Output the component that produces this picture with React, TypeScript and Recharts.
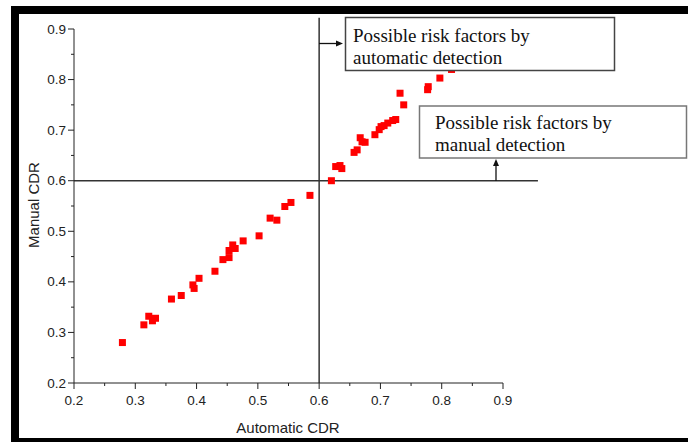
import React from 'react';
import { ScatterChart, Scatter, XAxis, YAxis, ReferenceLine } from 'recharts';

// ---- data ----
const automaticCDR = [
  0.279, 0.314, 0.322, 0.328, 0.333, 0.359, 0.375, 0.394, 0.396, 0.404,
  0.430, 0.443, 0.453, 0.453, 0.459, 0.463, 0.476, 0.502, 0.520, 0.531,
  0.544, 0.554, 0.585, 0.620, 0.627, 0.634, 0.637, 0.657, 0.662, 0.667,
  0.670, 0.675, 0.691, 0.698, 0.701, 0.706, 0.712, 0.720, 0.725, 0.732,
  0.738, 0.777, 0.778, 0.797, 0.816,
];
const manualCDR = [
  0.280, 0.315, 0.332, 0.323, 0.328, 0.366, 0.373, 0.394, 0.387, 0.407,
  0.421, 0.444, 0.448, 0.462, 0.473, 0.466, 0.481, 0.491, 0.526, 0.522,
  0.549, 0.557, 0.571, 0.600, 0.628, 0.630, 0.624, 0.656, 0.661, 0.685,
  0.677, 0.676, 0.691, 0.701, 0.707, 0.709, 0.714, 0.719, 0.721, 0.773,
  0.750, 0.780, 0.786, 0.803, 0.820,
];
const axisTicks = [
  0.2, 0.25, 0.3, 0.35, 0.4, 0.45, 0.5, 0.55, 0.6, 0.65, 0.7, 0.75, 0.8, 0.85, 0.9,
];
const thresholdCDR = 0.6;
const xTitle = 'Automatic CDR';
const yTitle = 'Manual CDR';
const autoNote = ['Possible risk factors by', 'automatic detection'];
const manualNote = ['Possible risk factors by', 'manual detection'];

const points = automaticCDR.map((x, i) => ({ x, y: manualCDR[i] }));

// ---- layout ----
const W = 688;
const H = 442;
const PLOT_LEFT = 74;
const PLOT_RIGHT = 503;
const PLOT_TOP = 29;
const PLOT_BOTTOM = 383;
const AXIS_COLOR = '#222';
const SANS = '"Liberation Sans", Arial, sans-serif';
const SERIF = '"Liberation Serif", "Times New Roman", serif';

const isMajor = (v: number) => Math.abs(v * 10 - Math.round(v * 10)) < 1e-6;

const YTick = (props: any) => {
  const { y, payload } = props;
  const v = payload.value as number;
  const major = isMajor(v);
  return (
    <g>
      <line x1={PLOT_LEFT - (major ? 6 : 3)} x2={PLOT_LEFT} y1={y} y2={y} stroke={AXIS_COLOR} strokeWidth={1} />
      {major && (
        <text x={PLOT_LEFT - 8} y={y} dy={4.5} textAnchor="end" fontSize={13.5} fontFamily={SANS} fill={AXIS_COLOR}>
          {v.toFixed(1)}
        </text>
      )}
    </g>
  );
};

const XTick = (props: any) => {
  const { x, payload } = props;
  const v = payload.value as number;
  const major = isMajor(v);
  return (
    <g>
      <line x1={x} x2={x} y1={PLOT_BOTTOM} y2={PLOT_BOTTOM + (major ? 6 : 3)} stroke={AXIS_COLOR} strokeWidth={1} />
      {major && (
        <text x={x} y={PLOT_BOTTOM + 22} textAnchor="middle" fontSize={13.5} fontFamily={SANS} fill={AXIS_COLOR}>
          {v.toFixed(1)}
        </text>
      )}
    </g>
  );
};

const SquareDot = (props: any) => {
  const { cx, cy } = props;
  return <rect x={cx - 3.5} y={cy - 3.5} width={7} height={7} fill="#ff0000" />;
};

export default function App() {
  return (
    <div style={{ position: 'absolute', left: 0, top: 0, width: W, height: H, background: '#fff', overflow: 'hidden' }}>
      <ScatterChart
        width={W}
        height={H}
        margin={{ top: PLOT_TOP, right: W - PLOT_RIGHT, bottom: H - PLOT_BOTTOM - 30, left: 0 }}
      >
        <XAxis
          type="number"
          dataKey="x"
          domain={[0.2, 0.9]}
          ticks={axisTicks}
          interval={0}
          height={30}
          tickLine={false}
          tick={<XTick />}
          axisLine={{ stroke: AXIS_COLOR, strokeWidth: 1 }}
          allowDataOverflow
        />
        <YAxis
          type="number"
          dataKey="y"
          domain={[0.2, 0.9]}
          ticks={axisTicks}
          interval={0}
          width={PLOT_LEFT}
          tickLine={false}
          tick={<YTick />}
          axisLine={{ stroke: AXIS_COLOR, strokeWidth: 1 }}
          allowDataOverflow
        />
        <ReferenceLine
          segment={[{ x: thresholdCDR, y: 0.2 }, { x: thresholdCDR, y: 0.922 }]}
          stroke="#333"
          strokeWidth={1.5}
          ifOverflow="visible"
        />
        <ReferenceLine
          segment={[{ x: 0.2, y: thresholdCDR }, { x: 0.957, y: thresholdCDR }]}
          stroke="#333"
          strokeWidth={1.5}
          ifOverflow="visible"
        />
        <Scatter data={points} shape={<SquareDot />} isAnimationActive={false} />
      </ScatterChart>

      <svg width={W} height={H} style={{ position: 'absolute', left: 0, top: 0, pointerEvents: 'none' }}>
        {/* axis titles */}
        <text x={288} y={433} textAnchor="middle" fontSize={15} fontFamily={SANS} fill={AXIS_COLOR}>
          {xTitle}
        </text>
        <text
          x={0}
          y={0}
          transform="translate(39,205) rotate(-90)"
          textAnchor="middle"
          fontSize={15}
          fontFamily={SANS}
          fill={AXIS_COLOR}
        >
          {yTitle}
        </text>

        {/* annotation boxes */}
        <rect x={345.5} y={17.5} width={269} height={53} fill="#fff" stroke="#444" strokeWidth={1.5} />
        <text x={353} y={41.5} fontSize={19} fontFamily={SERIF} fill="#111">{autoNote[0]}</text>
        <text x={353} y={63.5} fontSize={19} fontFamily={SERIF} fill="#111">{autoNote[1]}</text>

        <rect x={419.5} y={106} width={267} height={52} fill="#fff" stroke="#777" strokeWidth={1.5} />
        <text x={435} y={128.5} fontSize={19} fontFamily={SERIF} fill="#111">{manualNote[0]}</text>
        <text x={435} y={150.5} fontSize={19} fontFamily={SERIF} fill="#111">{manualNote[1]}</text>

        {/* arrows */}
        <line x1={319} y1={43.5} x2={337} y2={43.5} stroke="#111" strokeWidth={1.3} />
        <polygon points="343,43.5 336,40.5 336,46.5" fill="#111" />
        <line x1={496} y1={181} x2={496} y2={165} stroke="#111" strokeWidth={1.3} />
        <polygon points="496,159 493,166 499,166" fill="#111" />
      </svg>

      {/* picture frame */}
      <div style={{ position: 'absolute', left: 11, top: 6, width: W - 11, height: 8, background: '#000' }} />
      <div style={{ position: 'absolute', left: 11, top: 6, width: 8, height: H - 6, background: '#000' }} />
      <div style={{ position: 'absolute', left: 11, top: 438, width: W - 11, height: 4, background: '#000' }} />
    </div>
  );
}
